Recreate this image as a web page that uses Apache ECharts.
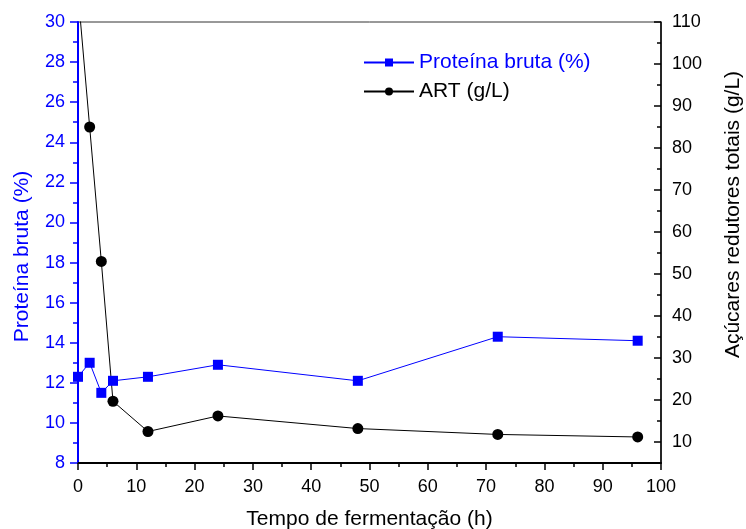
<!DOCTYPE html>
<html>
<head>
<meta charset="utf-8">
<script src="https://cdn.jsdelivr.net/npm/echarts@6/dist/echarts.min.js"></script>
<style>
  html, body { margin: 0; padding: 0; background: #fff; }
  #chart { width: 746px; height: 529px; }
</style>
</head>
<body>
<div id="chart"></div>
<script>
// time points (h)
var hours = [0, 2, 4, 6, 12, 24, 48, 72, 96]
// crude protein (%), left axis
var proteina = [12.3, 13.0, 11.5, 12.1, 12.3, 12.9, 12.1, 14.3, 14.1]
// reducing sugars (g/L), right axis
var art = [117, 85, 53, 19.7, 12.5, 16.2, 13.2, 11.8, 11.2]
var rightTicks = [10, 20, 30, 40, 50, 60, 70, 80, 90, 100, 110]

var BLUE = '#0000ff'
var FONT = 'Liberation Sans'

function pairs(xs, ys) {
    return xs.map(function (x, i) { return [x, ys[i]] })
}

var myChart = echarts.init(document.getElementById('chart'), null, { renderer: 'canvas' })

var option = {
    animation: false,
    textStyle: { fontFamily: FONT },
    grid: {
        left: 78, right: 85, top: 22, bottom: 66,
        outerBoundsMode: 'none', containLabel: false,
        show: true, borderColor: '#333', borderWidth: 1, backgroundColor: 'transparent'
    },
    legend: {
        orient: 'vertical',
        left: 358, top: 47,
        itemGap: 8,
        itemWidth: 50, itemHeight: 10,
        textStyle: { fontSize: 21, fontFamily: FONT },
        data: [
            { name: 'Proteína bruta (%)', textStyle: { color: BLUE } },
            { name: 'ART (g/L)', textStyle: { color: '#000' } }
        ]
    },
    xAxis: {
        type: 'value', min: 0, max: 100, interval: 10,
        name: 'Tempo de fermentação (h)', nameLocation: 'middle', nameGap: 46,
        nameTextStyle: { fontSize: 21, color: '#000', fontFamily: FONT },
        axisLine: { lineStyle: { color: '#000', width: 2 } },
        axisTick: { inside: false, length: 7, lineStyle: { color: '#000', width: 1.5 } },
        minorTick: { show: true, splitNumber: 2, length: 4, lineStyle: { color: '#000', width: 1.5 } },
        axisLabel: { fontSize: 18, color: '#000', margin: 15 },
        splitLine: { show: false }
    },
    yAxis: [
        {
            type: 'value', position: 'left', min: 8, max: 30, interval: 2,
            name: 'Proteína bruta (%)', nameLocation: 'middle', nameGap: 45, nameRotate: 90,
            nameTextStyle: { fontSize: 21, color: BLUE, fontFamily: FONT, padding: [0, 28, 0, 0] },
            axisLine: { show: true, lineStyle: { color: BLUE, width: 2 } },
            axisTick: { show: true, inside: false, length: 8, lineStyle: { color: BLUE, width: 1.5 } },
            minorTick: { show: true, splitNumber: 2, length: 5, lineStyle: { color: BLUE, width: 1.5 } },
            axisLabel: { fontSize: 18, color: BLUE, margin: 13 },
            splitLine: { show: false }
        },
        {
            type: 'value', position: 'right', min: 5, max: 110,
            name: 'Açúcares redutores totais (g/L)', nameLocation: 'middle', nameGap: 62, nameRotate: 90,
            nameTextStyle: { fontSize: 21, color: '#000', fontFamily: FONT, padding: [0, 0, 0, 56] },
            axisLine: { show: true, lineStyle: { color: '#000', width: 1.5 } },
            axisTick: { show: true, inside: true, length: 7, customValues: rightTicks, lineStyle: { color: '#000', width: 1.5 } },
            axisLabel: { fontSize: 18, color: '#000', margin: 11, customValues: rightTicks },
            splitLine: { show: false }
        },
        {
            // minor ticks for the right axis only
            type: 'value', position: 'right', min: 5, max: 110, interval: 5,
            axisLine: { show: false },
            axisTick: { show: true, inside: true, length: 4, lineStyle: { color: '#000', width: 1.5 } },
            axisLabel: { show: false },
            splitLine: { show: false }
        }
    ],
    series: [
        {
            name: 'Proteína bruta (%)', type: 'line', yAxisIndex: 0,
            data: pairs(hours, proteina),
            symbol: 'rect', symbolSize: 10,
            itemStyle: { color: BLUE },
            lineStyle: { color: BLUE, width: 1 },
            clip: true
        },
        {
            name: 'ART (g/L)', type: 'line', yAxisIndex: 1,
            data: pairs(hours, art),
            symbol: 'circle', symbolSize: 11,
            itemStyle: { color: '#000' },
            lineStyle: { color: '#000', width: 1 },
            clip: true
        }
    ]
}

myChart.setOption(option)
</script>
</body>
</html>
